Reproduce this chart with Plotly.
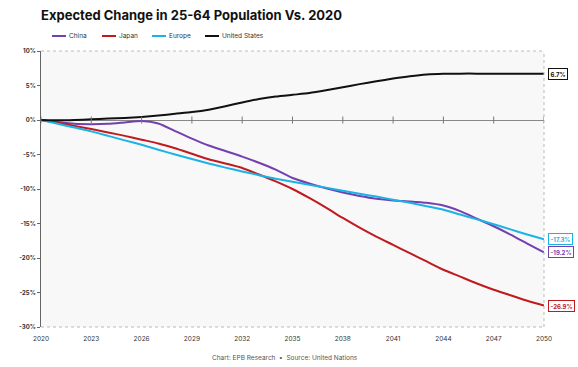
import plotly.graph_objects as go

years = list(range(2020, 2051))
china = [0, -0.3, -0.55, -0.6, -0.55, -0.35, -0.15, -0.5, -1.6, -2.7, -3.7, -4.5, -5.3, -6.2, -7.2, -8.4,
         -9.2, -9.9, -10.5, -11.0, -11.4, -11.65, -11.8, -12.0, -12.4, -13.2, -14.3, -15.4, -16.6, -17.9, -19.2]
japan = [0, -0.4, -0.85, -1.3, -1.8, -2.3, -2.85, -3.4, -4.1, -4.9, -5.7, -6.3, -6.95, -7.9, -8.9, -10.0,
         -11.3, -12.7, -14.2, -15.6, -16.9, -18.1, -19.3, -20.5, -21.7, -22.7, -23.7, -24.6, -25.4, -26.2, -26.9]
europe = [0, -0.55, -1.1, -1.65, -2.3, -2.95, -3.6, -4.3, -5.0, -5.65, -6.3, -6.9, -7.45, -8.0, -8.5, -8.95,
          -9.4, -9.8, -10.25, -10.7, -11.1, -11.55, -12.0, -12.5, -13.0, -13.7, -14.4, -15.1, -15.85, -16.6, -17.3]
usa = [0, -0.05, 0.0, 0.1, 0.2, 0.3, 0.45, 0.65, 0.9, 1.15, 1.5, 2.0, 2.55, 3.05, 3.4, 3.65,
       3.9, 4.3, 4.75, 5.2, 5.6, 6.0, 6.35, 6.6, 6.7, 6.72, 6.72, 6.7, 6.7, 6.7, 6.7]

series_names = ["China", "Japan", "Europe", "United States"]
series_values = [china, japan, europe, usa]
series_colors = ["#7440B0", "#C01A1E", "#1BB3E6", "#111111"]

tick_years = list(range(2020, 2051, 3))
y_ticks = [10, 5, 0, -5, -10, -15, -20, -25, -30]

FONT = "Inter, Lato, sans-serif"
W, H = 578, 367
ML, MR, MT, MB = 41, 34, 51, 40
PW, PH = W - ML - MR, H - MT - MB

# legend layout (pixel x of each legend line start)
legend_px = [52, 102, 152, 205]
legend_py = 36

fig = go.Figure()
for name, vals, col in zip(series_names, series_values, series_colors):
    fig.add_trace(go.Scatter(x=years, y=vals, name=name, mode="lines", showlegend=False,
                             line=dict(color=col, width=2, shape="spline", smoothing=0.6)))

# tick marks on zero line
fig.add_trace(go.Scatter(x=tick_years, y=[0] * len(tick_years), mode="markers", showlegend=False,
                         hoverinfo="skip",
                         marker=dict(symbol="line-ns-open", size=5, color="#777",
                                     line=dict(color="#777", width=1))))

def px_to_paper_x(px):
    return (px - ML) / PW

def px_to_paper_y(py):
    return (H - MB - py) / PH

# custom legend
for name, col, lx in zip(series_names, series_colors, legend_px):
    fig.add_shape(type="line", xref="paper", yref="paper",
                  x0=px_to_paper_x(lx), x1=px_to_paper_x(lx + 14),
                  y0=px_to_paper_y(legend_py), y1=px_to_paper_y(legend_py),
                  line=dict(color=col, width=2))
    fig.add_annotation(x=px_to_paper_x(lx + 15), y=px_to_paper_y(legend_py), xref="paper", yref="paper",
                       text=name, showarrow=False, xanchor="left", yanchor="middle",
                       font=dict(size=6.5, color="#333", family=FONT))

# end labels
for name, vals, col in zip(series_names, series_values, series_colors):
    fig.add_annotation(x=years[-1], y=vals[-1], xref="x", yref="y", text=f"<b>{vals[-1]:.1f}%</b>",
                       showarrow=False, xanchor="left", xshift=4,
                       font=dict(size=6, color=col, family=FONT),
                       bgcolor="white", bordercolor=col, borderwidth=1, borderpad=1.5)

fig.add_annotation(x=0.5 - 8 / PW, y=0, xref="paper", yref="paper", yshift=-31, yanchor="middle",
                   text="Chart: EPB Research  •  Source: United Nations", showarrow=False,
                   font=dict(size=6.5, color="#555", family=FONT))

# dotted border top/right/bottom
for x0, x1, y0, y1 in [(0, 1, 1, 1), (1, 1, 0, 1), (0, 1, 0, 0)]:
    fig.add_shape(type="line", xref="paper", yref="paper", x0=x0, x1=x1, y0=y0, y1=y1,
                  line=dict(color="#bbb", width=1, dash="dot"))

fig.update_layout(
    width=W, height=H,
    margin=dict(l=ML, r=MR, t=MT, b=MB, autoexpand=False),
    paper_bgcolor="white", plot_bgcolor="#f8f8f8",
    font=dict(family=FONT, size=7, color="#333"),
    title=dict(text="<b>Expected Change in 25-64 Population Vs. 2020</b>", x=41 / W, xanchor="left",
               y=1 - 15 / H, yanchor="middle", font=dict(size=13, color="#111", family=FONT)),
    showlegend=False,
    xaxis=dict(range=[2020, 2050], tickvals=tick_years, ticktext=[str(t) for t in tick_years],
               showgrid=False, zeroline=False, showline=False, ticks="", ticklabelstandoff=6,
               tickfont=dict(size=6.5, color="#333")),
    yaxis=dict(range=[-30, 10], tickvals=y_ticks, ticktext=[f"<b>{t}%</b>" for t in y_ticks],
               showgrid=False, zeroline=True, zerolinecolor="#888", zerolinewidth=1,
               showline=True, linecolor="#666", linewidth=1, ticks="outside", ticklen=3,
               tickcolor="#666", tickfont=dict(size=6, color="#333")),
)

fig.write_html("out.html", config={"displayModeBar": False},
               post_script="document.body.style.margin='0';document.body.style.overflow='hidden';")
